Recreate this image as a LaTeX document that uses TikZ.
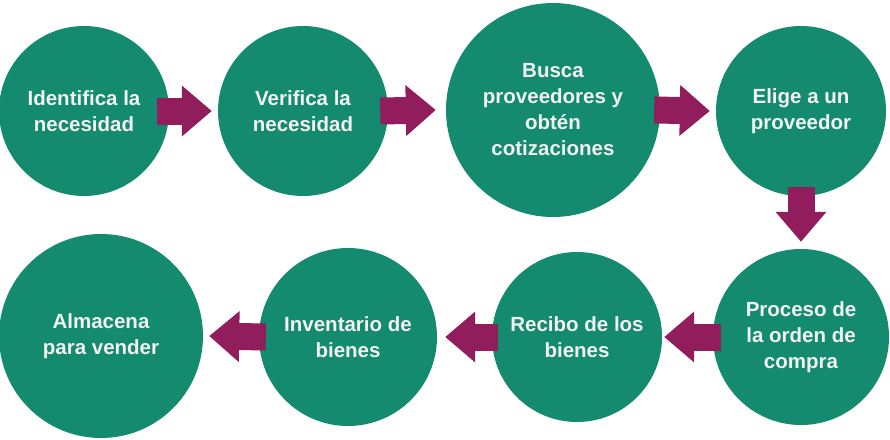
\documentclass[tikz,border=0pt]{standalone}
\usepackage{fontspec}
\setmainfont{Liberation Sans}
\usetikzlibrary{arrows.meta}
\definecolor{verde}{RGB}{20,138,110}
\definecolor{vino}{RGB}{145,29,92}
\definecolor{blanco}{RGB}{242,242,242}
\begin{document}
\begin{tikzpicture}[x=1pt, y=-1pt,
        paso/.style = {circle,
                inner sep=0pt,
                fill=verde,
                text=blanco,
                align=center,
                font=\fontsize{20.5}{26}\selectfont\bfseries},
        flecha/.style = {vino,
                line width=27pt,
                -{Triangle[length=30pt, width=49pt]}}]

    \useasboundingbox (0,0) rectangle (890,439);

    % Upper row
    \node[paso, minimum size=170] (identifica) at (84,111) {Identifica la\\necesidad};
    \node[paso, minimum size=170] (verifica) at (303,111) {Verifica la\\necesidad};
    \node[paso, minimum size=214] (busca) at (553,110) {Busca\\proveedores y\\obtén\\cotizaciones};
    \node[paso, minimum size=170] (elige) at (801,111) {Elige a un\\proveedor};

    % Lower row
    \node[paso, minimum size=176] (proceso) at (801,337) {Proceso de\\la orden de\\compra};
    \node[paso, minimum size=170] (recibo) at (577,337) {Recibo de los\\bienes};
    \node[paso, minimum size=178] (inventario) at (348,337) {Inventario de\\bienes};
    \node[paso, minimum size=204] (almacena) at (101,336) {Almacena\\para vender};

    % Arrows
    \draw[flecha] ([xshift=-12]identifica.east) -- ([xshift=-6]verifica.west);
    \draw[flecha] ([xshift=-8]verifica.east) -- ([xshift=-10]busca.west);
    \draw[flecha] ([xshift=-6]busca.east) -- ([xshift=-6]elige.west);
    \draw[flecha] ([yshift=9]elige.south) -- ([yshift=7]proceso.north);
    \draw[flecha] ([xshift=8]proceso.west) -- ([xshift=2]recibo.east);
    \draw[flecha] ([xshift=6]recibo.west) -- ([xshift=8]inventario.east);
    \draw[flecha] ([xshift=7]inventario.west) -- ([xshift=6]almacena.east);

\end{tikzpicture}
\end{document}
